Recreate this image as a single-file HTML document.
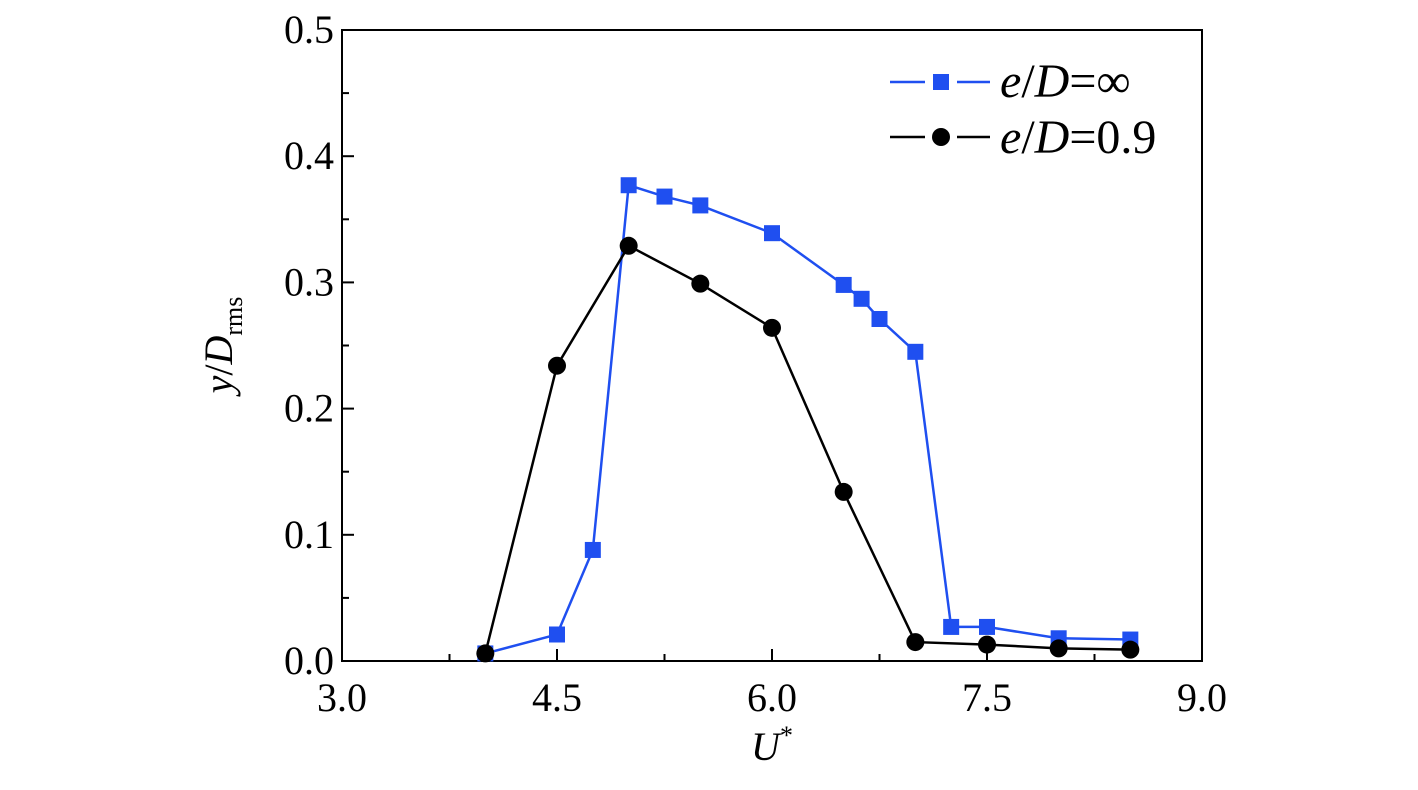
<!DOCTYPE html>
<html><head><meta charset="utf-8"><style>
html,body{margin:0;padding:0;background:#fff;}
svg{display:block;font-family:"Liberation Serif",serif;}
</style></head><body>
<svg id="chart" width="1418" height="790" viewBox="0 0 1418 790">
<rect x="342" y="30" width="860" height="631" fill="none" stroke="#000" stroke-width="2"/>
<g id="ticks"></g>
<g id="series"></g>
<text x="772" y="760" font-size="40" text-anchor="middle" font-style="italic">U<tspan font-style="normal" dy="-16" font-size="26">*</tspan></text>
<text transform="translate(232,345) rotate(-90)" font-size="40" text-anchor="middle"><tspan font-style="italic">y</tspan>/<tspan font-style="italic">D</tspan><tspan font-size="26" dy="10">rms</tspan></text>
<g>
<g>
<line x1="890" y1="82" x2="925" y2="82" stroke="#1f4ff0" stroke-width="2.5"/>
<line x1="957" y1="82" x2="990" y2="82" stroke="#1f4ff0" stroke-width="2.5"/>
<rect x="933" y="74" width="16" height="16" fill="#1f4ff0"/>
<text x="1000" y="97" font-size="48"><tspan font-style="italic">e</tspan>/<tspan font-style="italic">D</tspan>=∞</text>
</g>
<g>
<line x1="890" y1="137" x2="925" y2="137" stroke="#000" stroke-width="2.5"/>
<line x1="957" y1="137" x2="990" y2="137" stroke="#000" stroke-width="2.5"/>
<circle cx="941" cy="137" r="9" fill="#000"/>
<text x="1000" y="153" font-size="48"><tspan font-style="italic">e</tspan>/<tspan font-style="italic">D</tspan>=0.9</text>
</g>
</g>
</svg>
<script>
const xTicks=[3.0,4.5,6.0,7.5,9.0];
const xTickLabels=["3.0","4.5","6.0","7.5","9.0"];
const yTicks=[0,0.1,0.2,0.3,0.4,0.5];
const yTickLabels=["0.0","0.1","0.2","0.3","0.4","0.5"];
const blueX=[4.0,4.5,4.75,5.0,5.25,5.5,6.0,6.5,6.625,6.75,7.0,7.25,7.5,8.0,8.5];
const blueY=[0.006,0.021,0.088,0.377,0.368,0.361,0.339,0.298,0.287,0.271,0.245,0.027,0.027,0.018,0.017];
const blackX=[4.0,4.5,5.0,5.5,6.0,6.5,7.0,7.5,8.0,8.5];
const blackY=[0.006,0.234,0.329,0.299,0.264,0.134,0.015,0.013,0.010,0.009];
const X0=342,X1=1202,Y0=661,Y1=30;
const sx=v=>X0+(v-3)/(9-3)*(X1-X0);
const sy=v=>Y0-(v-0)/(0.5)*(Y0-Y1);
const NS="http://www.w3.org/2000/svg";
function mk(tag,attrs,parent){const e=document.createElementNS(NS,tag);for(const k in attrs)e.setAttribute(k,attrs[k]);parent.appendChild(e);return e;}
const tg=document.getElementById('ticks');
for(let v=3;v<=9.001;v+=0.75){const x=sx(v);const major=Math.abs((v-3)/1.5-Math.round((v-3)/1.5))<1e-6;
const t=mk('line',{x1:x,x2:x,y1:Y0,y2:Y0-(major?12:7),stroke:'#000','stroke-width':2},tg);

}
for(let v=0;v<=0.5001;v+=0.05){const y=sy(v);const major=Math.abs(v*10-Math.round(v*10))<1e-6;
const t=mk('line',{x1:X0,x2:X0+(major?12:7),y1:y,y2:y,stroke:'#000','stroke-width':2},tg);

}
xTicks.forEach((v,i)=>{const t=mk('text',{x:sx(v),y:Y0+50,'font-size':40,'text-anchor':'middle'},tg);t.textContent=xTickLabels[i];

});
yTicks.forEach((v,i)=>{const t=mk('text',{x:X0-8,y:sy(v)+13,'font-size':40,'text-anchor':'end'},tg);t.textContent=yTickLabels[i];

});
const sg=document.getElementById('series');
function series(xs,ys,color,shape,name){
const pl=mk('polyline',{points:xs.map((x,i)=>sx(x)+','+sy(ys[i])).join(' '),fill:'none',stroke:color,'stroke-width':2.5},sg);


xs.forEach((x,i)=>{let m;
if(shape==='sq')m=mk('rect',{x:sx(x)-8,y:sy(ys[i])-8,width:16,height:16,fill:color},sg);
else m=mk('circle',{cx:sx(x),cy:sy(ys[i]),r:9,fill:color},sg);

});
}
series(blueX,blueY,'#1f4ff0','sq','series-inf');
series(blackX,blackY,'#000','ci','series-0-9');
</script>
</body></html>
